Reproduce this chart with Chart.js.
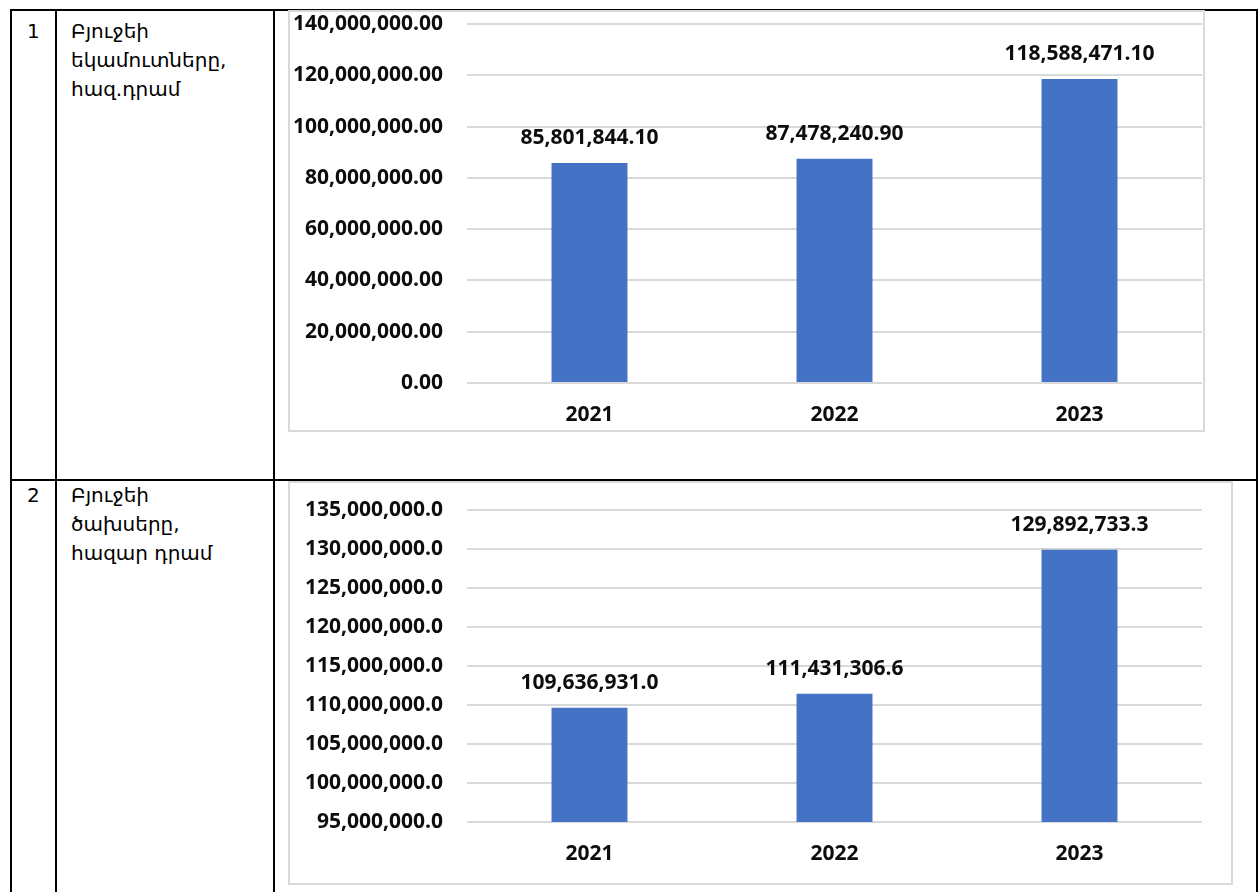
<!DOCTYPE html>
<html>
<head>
<meta charset="utf-8">
<script src="https://cdn.jsdelivr.net/npm/chart.js@4.4.1/dist/chart.umd.min.js"></script>
<style>
  body { margin: 0; background: #fff; width: 1259px; height: 892px; overflow: hidden; position: relative; }
  .ln { position: absolute; background: #000; }
  .frame { position: absolute; border: 2px solid #d9d9d9; box-sizing: border-box; }
  .cell { position: absolute; font-family: "DejaVu Sans", sans-serif; font-size: 20px; line-height: 29px; color: #000; }
  canvas { position: absolute; }
</style>
</head>
<body>
<!-- table grid -->
<div class="ln" style="left:10px;top:9px;width:1248px;height:2px"></div>
<div class="ln" style="left:10px;top:479px;width:1248px;height:2px"></div>
<div class="ln" style="left:10px;top:9px;width:2px;height:883px"></div>
<div class="ln" style="left:55px;top:9px;width:2px;height:883px"></div>
<div class="ln" style="left:273px;top:9px;width:2px;height:883px"></div>
<div class="ln" style="left:1256px;top:9px;width:2px;height:883px"></div>

<div class="cell" style="left:27px;top:17px">1</div>
<div class="cell" style="left:71px;top:17px">Բյուջեի<br>եկամուտները,<br>հազ.դրամ</div>
<div class="cell" style="left:27px;top:481px">2</div>
<div class="cell" style="left:71px;top:481px">Բյուջեի<br>ծախսերը,<br>հազար դրամ</div>

<div class="frame" style="left:288px;top:10px;width:917px;height:422px"></div>
<div class="frame" style="left:288px;top:481px;width:945px;height:404px"></div>

<canvas id="income" width="913" height="418" style="left:290px;top:12px"></canvas>
<canvas id="expense" width="940" height="400" style="left:290px;top:483px"></canvas>

<script>
const years = ["2021", "2022", "2023"];
const incomeValues = [85801844.10, 87478240.90, 118588471.10];
const expenseValues = [109636931.0, 111431306.6, 129892733.3];
const incomeTicks = { min: 0, max: 140000000, step: 20000000, decimals: 2 };
const expenseTicks = { min: 95000000, max: 135000000, step: 5000000, decimals: 1 };

const FONT = { family: "'Open Sans', sans-serif", size: 21, weight: "bold" };

function fmt(v, d) {
  return Number(v).toLocaleString("en-US", { minimumFractionDigits: d, maximumFractionDigits: d });
}

const valueLabels = {
  id: "valueLabels",
  afterDatasetsDraw(chart, args, opts) {
    const ctx = chart.ctx;
    const meta = chart.getDatasetMeta(0);
    ctx.save();
    ctx.font = "bold 21px 'Open Sans', sans-serif";
    ctx.fillStyle = "#0d0d0d";
    ctx.textAlign = "center";
    ctx.textBaseline = "middle";
    meta.data.forEach((bar, i) => {
      ctx.fillText(fmt(chart.data.datasets[0].data[i], opts.decimals), bar.x, bar.y - 25);
    });
    ctx.restore();
  }
};

function makeChart(id, values, t, pad, xHeight) {
  return new Chart(document.getElementById(id), {
    type: "bar",
    data: {
      labels: years,
      datasets: [{
        data: values,
        backgroundColor: "#4472c4",
        barPercentage: 0.62,
        categoryPercentage: 0.5
      }]
    },
    options: {
      responsive: false,
      animation: false,
      layout: { padding: pad },
      plugins: {
        legend: { display: false },
        tooltip: { enabled: false },
        valueLabels: { decimals: t.decimals }
      },
      scales: {
        x: {
          grid: { display: false, drawTicks: false },
          border: { display: false },
          ticks: { color: "#0d0d0d", font: FONT, padding: 19 },
          afterFit(s) { s.height = xHeight; }
        },
        y: {
          min: t.min,
          max: t.max,
          grid: { color: "#d9d9d9", lineWidth: 2, drawTicks: false },
          border: { display: false },
          ticks: {
            stepSize: t.step,
            color: "#0d0d0d",
            font: FONT,
            padding: 24,
            callback: v => fmt(v, t.decimals)
          },
          afterFit(s) {
            s.width = 177;
            s.paddingTop = 0;
            s.paddingBottom = 0;
          }
        }
      }
    },
    plugins: [valueLabels]
  });
}

makeChart("income", incomeValues, incomeTicks, { top: 12, right: 1, left: 0, bottom: 0 }, 47);
makeChart("expense", expenseValues, expenseTicks, { top: 27, right: 28, left: 0, bottom: 0 }, 61);
</script>
</body>
</html>
